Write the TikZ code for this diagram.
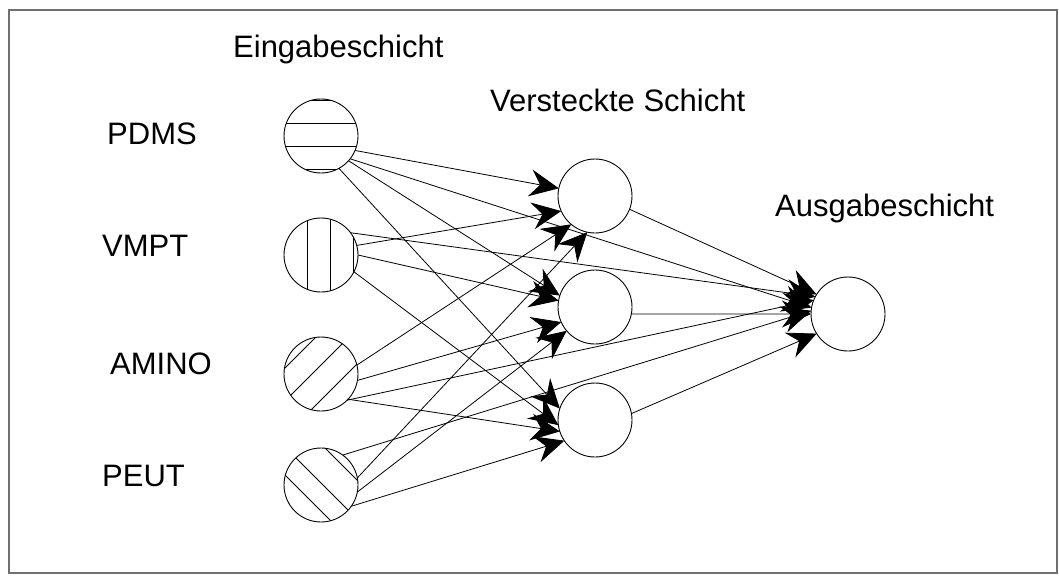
\documentclass[tikz,border=0pt]{standalone}
\usepackage{fontspec}
\setmainfont{Liberation Sans}
\usetikzlibrary{arrows.meta}
\definecolor{framegray}{HTML}{707070}
\begin{document}
\begin{tikzpicture}[x=1pt,y=-1pt,
  neuron/.style={circle,draw,line width=0.9pt,minimum size=74pt,inner sep=0pt,outer sep=0pt},
  link/.style={line width=0.8pt,-{Stealth[length=29pt,width=27pt,inset=10pt]}},
  hatch/.style={line width=0.9pt},
  lbl/.style={anchor=base west,inner sep=0pt,font=\fontsize{31}{36}\selectfont}]
\useasboundingbox (0,0) rectangle (1059,575);
\draw[line width=2pt,draw=framegray] (9,10) rectangle (1057,573);

% layer titles
\node[lbl] (tin)  at (233,58)  {Eingabeschicht};
\node[lbl] (thid) at (490,111) {Versteckte Schicht};
\node[lbl] (tout) at (775,216) {Ausgabeschicht};

% input names
\node[lbl] (lpdms)  at (107,144) {PDMS};
\node[lbl] (lvmpt)  at (102,256) {VMPT};
\node[lbl] (lamino) at (110,374) {AMINO};
\node[lbl] (lpeut)  at (102,486) {PEUT};

% neurons
\node[neuron] (pdms)  at (321,136) {};
\node[neuron] (vmpt)  at (321,255) {};
\node[neuron] (amino) at (321,374) {};
\node[neuron] (peut)  at (321,485) {};
\node[neuron] (h1) at (595,196) {};
\node[neuron] (h2) at (595,307) {};
\node[neuron] (h3) at (595,420) {};
\node[neuron] (out) at (848,314) {};

% hatching of the input neurons
\begin{scope}
  \clip (pdms.center) circle[radius=37pt];
  \foreach \d in {-36,-13,10,33}
    \draw[hatch] ([shift={(-40,\d)}]pdms.center) -- ++(80,0);
\end{scope}
\begin{scope}
  \clip (vmpt.center) circle[radius=37pt];
  \foreach \d in {-14,9,32}
    \draw[hatch] ([shift={(\d,-40)}]vmpt.center) -- ++(0,80);
\end{scope}
\begin{scope}
  \clip (amino.center) circle[radius=37pt];
  \foreach \d in {-42,-9,26}
    \draw[hatch] ([shift={(\d/2-40,\d/2+40)}]amino.center) -- ++(80,-80);
\end{scope}
\begin{scope}
  \clip (peut.center) circle[radius=37pt];
  \foreach \d in {-26,2,41}
    \draw[hatch] ([shift={(\d/2-40,-\d/2-40)}]peut.center) -- ++(80,80);
\end{scope}

% input -> hidden
\draw[link] (pdms.-23) -- (h1.168);
\draw[link] (pdms.-42) -- (h2.162);
\draw[link] (pdms.-61) -- (h3.162);
\draw[link] (vmpt.15)  -- (h1.204);
\draw[link] (vmpt.0)   -- (h2.170);
\draw[link] (vmpt.-27) -- (h3.188);
\draw[link] (amino.14)  -- (h1.230);
\draw[link] (amino.-10) -- (h2.204);
\draw[link] (amino.-43) -- (h3.198);
\draw[link] (peut.11)  -- (h1.258);
\draw[link] (peut.-11) -- (h2.220);
\draw[link] (peut.-35) -- (h3.214);

% input -> output
\draw[link] (pdms.-38) -- (out.170);
\draw[link] (vmpt.37)  -- (out.152);
\draw[link] (amino.-45) -- (out.158);
\draw[link] (peut.54)  -- (out.175);

% hidden -> output
\draw[link] (h1.-21) -- (out.148);
\draw[link] (h2.-11) -- (out.180);
\draw[link] (h3.10)  -- (out.212);
\end{tikzpicture}
\end{document}
